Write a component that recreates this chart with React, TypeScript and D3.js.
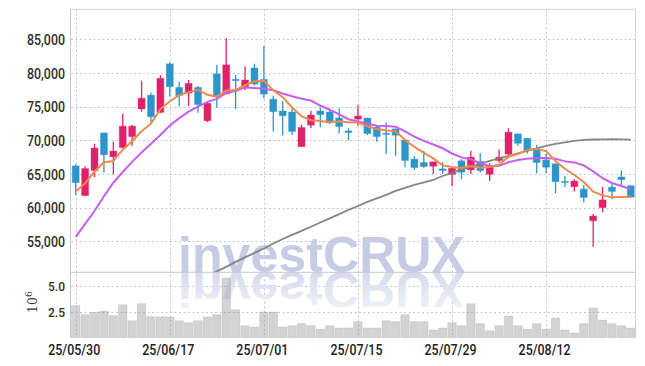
import React from 'react';
import * as d3 from 'd3';

const dates = [
  '25/05/30', '25/06/02', '25/06/04', '25/06/05', '25/06/09', '25/06/10', '25/06/11', '25/06/12', '25/06/13', '25/06/16',
  '25/06/17', '25/06/18', '25/06/19', '25/06/20', '25/06/23', '25/06/24', '25/06/25', '25/06/26', '25/06/27', '25/06/30',
  '25/07/01', '25/07/02', '25/07/03', '25/07/04', '25/07/07', '25/07/08', '25/07/09', '25/07/10', '25/07/11', '25/07/14',
  '25/07/15', '25/07/16', '25/07/17', '25/07/18', '25/07/21', '25/07/22', '25/07/23', '25/07/24', '25/07/25', '25/07/28',
  '25/07/29', '25/07/30', '25/07/31', '25/08/01', '25/08/04', '25/08/05', '25/08/06', '25/08/07', '25/08/08', '25/08/11',
  '25/08/12', '25/08/13', '25/08/14', '25/08/18', '25/08/19', '25/08/20', '25/08/21', '25/08/22', '25/08/25', '25/08/26',
];
const tickDates = ['25/05/30', '25/06/17', '25/07/01', '25/07/15', '25/07/29', '25/08/12'];
const priceTicks = [55000, 60000, 65000, 70000, 75000, 80000, 85000];
const volumeTicks = [2.5, 5.0];

const opens = [
  66200, 61800, 65500, 71100, 67550, 68900, 70550, 74650, 76700, 74150,
  81350, 77850, 77000, 77850, 72900, 79850, 76900, 79050, 77950, 80750,
  79050, 76100, 74350, 74200, 69050, 72250, 74350, 74200, 73300, 71400,
  73150, 73300, 71950, 71050, 71700, 70050, 67200, 66700, 66150, 65750,
  64950, 66950, 65600, 66850, 64950, 67000, 67950, 70950, 70300, 68650,
  67100, 66500, 63900, 63100, 62750, 58050, 60000, 63050, 64550, 63250,
];
const highs = [
  66400, 66150, 69500, 71150, 69800, 73950, 72300, 78850, 77050, 79650,
  81600, 78700, 78950, 78050, 75600, 81200, 85200, 79700, 80950, 81350,
  84000, 76600, 75850, 75000, 72300, 74400, 74900, 74500, 74750, 71800,
  75200, 73350, 72150, 72650, 71750, 70100, 67650, 68450, 66850, 66750,
  65900, 67200, 68450, 68100, 66600, 68650, 71800, 71000, 70350, 69300,
  68050, 66550, 64750, 64200, 63350, 59050, 63050, 63600, 65500, 63300,
];
const lows = [
  61900, 61700, 64500, 65200, 64950, 68800, 69200, 74250, 72600, 74100,
  76500, 75050, 75100, 74100, 72700, 74850, 76850, 74600, 77450, 78150,
  76250, 71300, 70750, 70800, 69000, 71800, 71950, 72400, 71050, 70000,
  72150, 70800, 69800, 67950, 67700, 66000, 65600, 65850, 65000, 65000,
  63200, 64200, 65000, 65200, 63950, 66700, 67500, 69150, 68050, 65100,
  65100, 62150, 63050, 62400, 60750, 54200, 59300, 61250, 63200, 61500,
];
const closes = [
  63700, 65800, 68850, 67850, 68400, 72100, 72100, 76250, 73500, 79200,
  77950, 76650, 78450, 75300, 75500, 76500, 81200, 78850, 78950, 78350,
  76850, 74250, 73650, 71300, 71900, 73750, 73800, 72600, 72050, 71150,
  73600, 71000, 70550, 70900, 70750, 67000, 65950, 66100, 66800, 65500,
  65850, 65250, 67500, 65500, 66100, 67500, 71200, 69550, 68550, 66700,
  66000, 63850, 63750, 63950, 61500, 58750, 61150, 62400, 64150, 61550,
];
// volume, in millions of shares
const volumes = [
  3.08, 2.21, 2.43, 2.56, 2.12, 3.17, 1.63, 3.27, 2.02, 2.02,
  1.99, 1.63, 1.44, 1.63, 1.99, 2.21, 5.74, 2.69, 1.15, 1.03,
  2.47, 2.47, 1.03, 1.15, 1.35, 1.15, 0.83, 1.15, 0.93, 0.93,
  1.54, 0.93, 0.93, 1.63, 1.54, 2.21, 1.54, 1.54, 0.74, 0.93,
  1.44, 1.15, 3.27, 1.35, 0.67, 1.15, 2.09, 1.15, 0.83, 1.35,
  0.83, 1.89, 0.74, 0.45, 1.35, 2.86, 1.70, 1.35, 1.15, 0.93,
];
const ma5 = [
  62400, 63600, 65350, 66750, 66920, 68600, 69860, 71340, 72470, 74630,
  75800, 76710, 77150, 77510, 76770, 76480, 77390, 77470, 78200, 78770,
  78840, 77450, 76410, 74880, 73590, 72970, 72880, 72670, 72820, 72670,
  72640, 72080, 71670, 71440, 71360, 70040, 69030, 68140, 67320, 66270,
  66040, 65900, 66180, 65920, 66040, 66370, 67560, 67970, 68580, 68700,
  68400, 66930, 65770, 64850, 63810, 62360, 61820, 61550, 61590, 61600,
];
const ma10 = [
  55650, 57600, 59500, 61700, 63700, 65300, 66800, 68200, 69500, 70775,
  72200, 73285, 74245, 74990, 75700, 76140, 77050, 77310, 77855, 77770,
  77660, 77420, 76940, 76540, 76180, 75905, 75165, 74540, 73850, 73130,
  72805, 72480, 72170, 72130, 72015, 71340, 70555, 69905, 69380, 68815,
  68040, 67465, 67160, 66620, 66155, 66205, 66730, 67075, 67250, 67370,
  67385, 67245, 66870, 66715, 66255, 65380, 64375, 63660, 63220, 62705,
];
const ma60 = [
  null, null, null, null, null, null, null, null, null, null,
  null, null, null, null, 49860, 50530, 51200, 51940, 52610, 53275,
  53940, 54680, 55350, 55950, 56540, 57160, 57800, 58400, 59030, 59660,
  60250, 60850, 61365, 61890, 62480, 62920, 63370, 63740, 64110, 64700,
  65150, 65640, 66040, 66490, 66930, 67300, 67670, 68050, 68420, 68790,
  69160, 69460, 69680, 69900, 70050, 70120, 70150, 70170, 70150, 70090,
];

const W = 645;
const H = 366;
const L = 71;
const R = 635.5;
const T = 9.3;
const MB = 272.3;
const VB = 337.7;

const UP = '#e2216d';
const DOWN = '#2c96ca';
const GRID = '#c3c6d8';
const FONT = 'Roboto, "Liberation Sans", sans-serif';

export default function App() {
  const idx = d3.range(dates.length);
  const x = d3.scaleBand<number>().domain(idx).range([L, R]).padding(0);
  const bw = x.bandwidth();
  const cx = (i: number) => (x(i) as number) + bw / 2;
  const y = d3.scaleLinear().domain([50400, 89450]).range([MB, T]);
  const yv = d3.scaleLinear().domain([0, 6.3]).range([VB, MB]);
  const fmt = d3.format(',');

  const mkLine = (arr: (number | null)[]) =>
    d3
      .line<number | null>()
      .defined((d) => d != null)
      .x((_, i) => cx(i))
      .y((d) => y(d as number))(arr) || '';

  const bodyW = 7;

  return (
    <svg width={W} height={H} style={{ position: 'absolute', left: 0, top: 0, background: '#fff' }}>
      <defs>
        <clipPath id="mainClip">
          <rect x={L} y={T} width={R - L} height={MB - T} />
        </clipPath>
        <clipPath id="volClip">
          <rect x={L} y={MB} width={R - L} height={VB - MB} />
        </clipPath>
        <linearGradient id="refl" gradientUnits="userSpaceOnUse" x1="0" y1="272" x2="0" y2="232">
          <stop offset="0" stopColor="#d6d9eb" />
          <stop offset="1" stopColor="#f2f3f9" />
        </linearGradient>
      </defs>

      {/* grid */}
      <g stroke={GRID} strokeWidth={1} strokeDasharray="2,2.5">
        {priceTicks.map((t) => (
          <line key={'h' + t} x1={L} x2={R} y1={Math.round(y(t)) + 0.5} y2={Math.round(y(t)) + 0.5} />
        ))}
        {volumeTicks.map((t) => (
          <line key={'v' + t} x1={L} x2={R} y1={Math.round(yv(t)) + 0.5} y2={Math.round(yv(t)) + 0.5} />
        ))}
        {tickDates.map((d) => {
          const xx = Math.round(cx(dates.indexOf(d))) + 0.5;
          return <line key={'x' + d} x1={xx} x2={xx} y1={T} y2={VB} />;
        })}
      </g>

      {/* watermark */}
      <text x={178} y={272} fontFamily='"Liberation Sans", Arial, sans-serif' fontWeight="bold" fontSize={50} fill="#c7cce5" textLength={287} lengthAdjust="spacingAndGlyphs">
        investCRUX
      </text>
      <g clipPath="url(#volClip)">
        <g transform="translate(0,544) scale(1,-1)">
          <text x={178} y={272} fontFamily='"Liberation Sans", Arial, sans-serif' fontWeight="bold" fontSize={50} fill="url(#refl)" textLength={287} lengthAdjust="spacingAndGlyphs">
            investCRUX
          </text>
        </g>
      </g>

      {/* volume bars */}
      <g>
        {volumes.map((v, i) => (
          <rect
            key={'vb' + i}
            x={(x(i) as number) + 0.5}
            y={yv(v)}
            width={bw - 1}
            height={VB - yv(v)}
            fill="rgba(150,150,150,0.42)"
            stroke="rgba(140,140,140,0.25)"
            strokeWidth={0.8}
          />
        ))}
      </g>

      {/* candles */}
      <g clipPath="url(#mainClip)">
        {idx.map((i) => {
          const o = opens[i];
          const c = closes[i];
          const col = c >= o ? UP : DOWN;
          const top = y(Math.max(o, c));
          const bot = y(Math.min(o, c));
          const h = Math.max(1.2, bot - top);
          return (
            <g key={'c' + i}>
              <line x1={cx(i)} x2={cx(i)} y1={y(highs[i])} y2={y(lows[i])} stroke={col} strokeWidth={1.3} />
              <rect x={cx(i) - bodyW / 2} y={top} width={bodyW} height={h} fill={col} stroke={col} strokeOpacity={0.35} strokeWidth={1} />
            </g>
          );
        })}
        <path d={mkLine(ma60)} fill="none" stroke="#7f7f7f" strokeWidth={1.8} strokeOpacity={0.95} />
        <path d={mkLine(ma10)} fill="none" stroke="#c95cf0" strokeWidth={2} />
        <path d={mkLine(ma5)} fill="none" stroke="#ef8a4c" strokeWidth={2} />
      </g>

      {/* frame */}
      <g fill="none" stroke="#d2d2d8" strokeWidth={1}>
        <line x1={L - 0.5} x2={L - 0.5} y1={T} y2={VB} stroke="#c8c8cc" />
        <line x1={L} x2={R} y1={T} y2={T} />
        <line x1={R} x2={R} y1={T} y2={VB} />
        <line x1={L} x2={R} y1={MB} y2={MB} stroke="#c8c8cc" />
      </g>

      {/* price axis labels */}
      <g fontFamily={FONT} fontWeight={500} fontSize={15.5} fill="#2e2e2e" textAnchor="end">
        {priceTicks.map((t) => (
          <text key={'pl' + t} x={65} y={y(t) + 5.6} textLength={38} lengthAdjust="spacingAndGlyphs">
            {fmt(t)}
          </text>
        ))}
      </g>

      {/* volume axis labels */}
      <g fontFamily={FONT} fontWeight={500} fontSize={13.5} fill="#2e2e2e" textAnchor="end">
        {volumeTicks.map((t) => (
          <text key={'vl' + t} x={65} y={yv(t) + 5} textLength={17} lengthAdjust="spacingAndGlyphs">
            {t.toFixed(1)}
          </text>
        ))}
      </g>
      <text transform="translate(37,313) rotate(-90)" fontFamily='"DejaVu Serif", serif' fontSize={12.5} fill="#333">
        10
        <tspan dy={-5} fontSize={9}>
          6
        </tspan>
      </text>

      {/* date labels */}
      <g fontFamily={FONT} fontWeight={500} fontSize={15.5} fill="#222" textAnchor="middle">
        {tickDates.map((d) => (
          <text key={'dl' + d} x={cx(dates.indexOf(d)) - 1.5} y={355} textLength={52} lengthAdjust="spacingAndGlyphs">
            {d}
          </text>
        ))}
      </g>
    </svg>
  );
}
